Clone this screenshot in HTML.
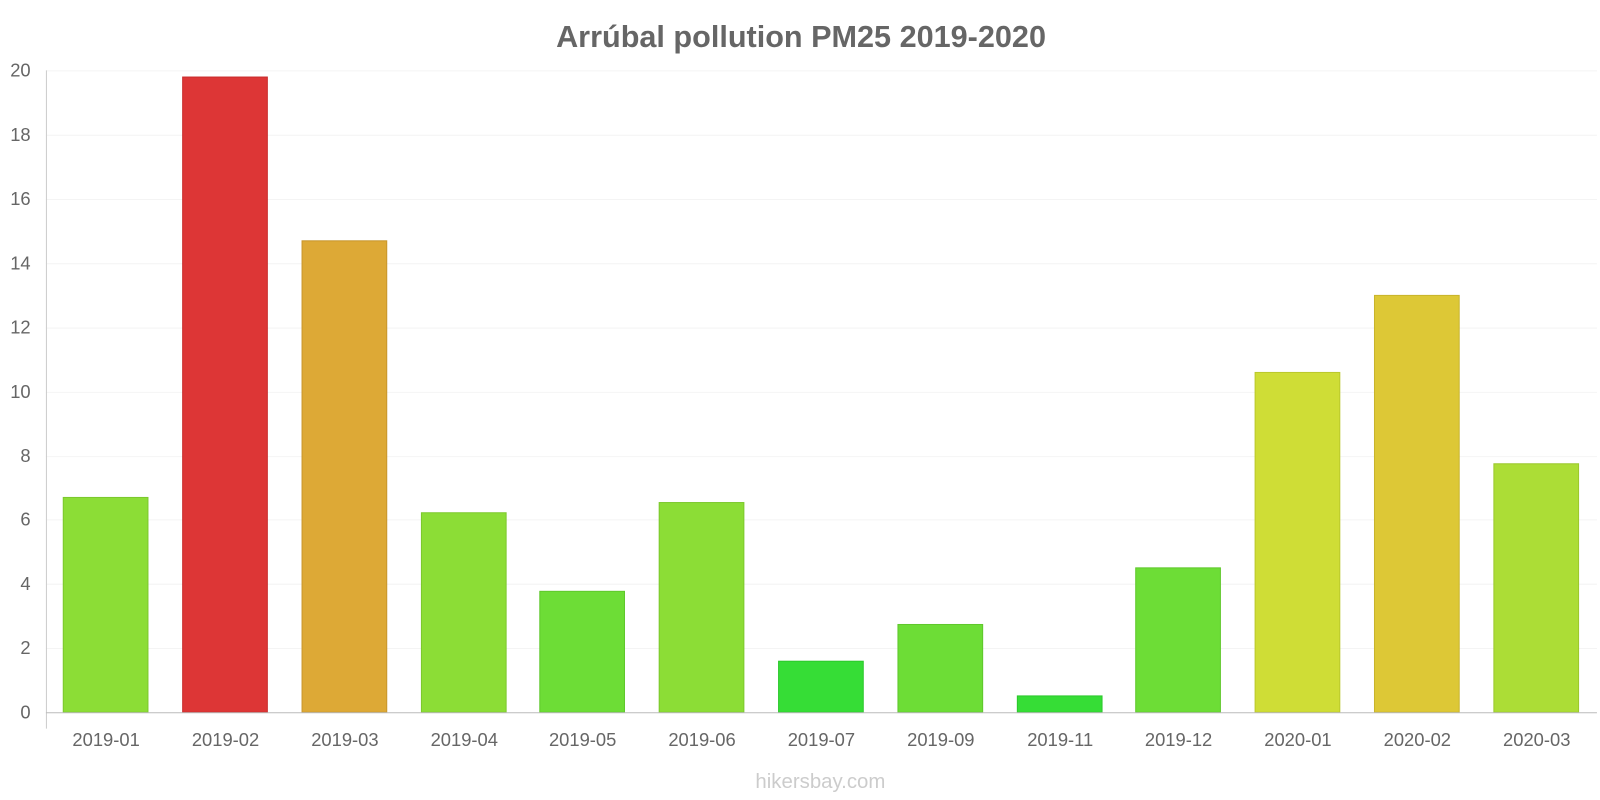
<!DOCTYPE html>
<html><head><meta charset="utf-8"><style>
html,body{margin:0;padding:0;background:#fff;overflow:hidden;}
svg{display:block;font-family:"Liberation Sans",sans-serif;}
</style></head><body>
<svg width="1600" height="800" viewBox="0 0 1568 784" xmlns="http://www.w3.org/2000/svg">
<text x="785" y="46" text-anchor="middle" font-size="30" font-weight="bold" fill="#666">Arrúbal pollution PM25 2019-2020</text>
<g stroke="#f4f4f4" stroke-width="1">
<line x1="45" x2="1565" y1="69.5" y2="69.5"/><line x1="45" x2="1565" y1="132.5" y2="132.5"/>
<line x1="45" x2="1565" y1="195.5" y2="195.5"/><line x1="45" x2="1565" y1="258.5" y2="258.5"/>
<line x1="45" x2="1565" y1="321.5" y2="321.5"/><line x1="45" x2="1565" y1="384.5" y2="384.5"/>
<line x1="45" x2="1565" y1="447.5" y2="447.5"/><line x1="45" x2="1565" y1="509.5" y2="509.5"/>
<line x1="45" x2="1565" y1="572.5" y2="572.5"/><line x1="45" x2="1565" y1="635.5" y2="635.5"/>
</g>
<g font-size="18" fill="#666" text-anchor="end">
<text x="30" y="704">0</text><text x="30" y="641">2</text><text x="30" y="578">4</text>
<text x="30" y="515">6</text><text x="30" y="453">8</text><text x="30" y="390">10</text>
<text x="30" y="327">12</text><text x="30" y="264">14</text><text x="30" y="201">16</text>
<text x="30" y="138">18</text><text x="30" y="75">20</text>
</g>
<g stroke-width="1">
<rect x="62" y="487.5" width="83" height="210.5" fill="#8cdd36" stroke="#7cc82c"/>
<rect x="179" y="75.5" width="83" height="622.5" fill="#dd3636" stroke="#c82c2c"/>
<rect x="296" y="236" width="83" height="462" fill="#dda936" stroke="#c8962c"/>
<rect x="413" y="502.5" width="83" height="195.5" fill="#8cdd36" stroke="#7cc82c"/>
<rect x="529" y="579.5" width="83" height="118.5" fill="#6ddd36" stroke="#5fc82c"/>
<rect x="646" y="492.5" width="83" height="205.5" fill="#8cdd36" stroke="#7cc82c"/>
<rect x="763" y="648" width="83" height="50" fill="#36dd36" stroke="#2cc82c"/>
<rect x="880" y="612" width="83" height="86" fill="#6ddd36" stroke="#5fc82c"/>
<rect x="997" y="682" width="83" height="16" fill="#36dd36" stroke="#2cc82c"/>
<rect x="1113" y="556.5" width="83" height="141.5" fill="#6ddd36" stroke="#5fc82c"/>
<rect x="1230" y="365" width="83" height="333" fill="#cfdd36" stroke="#bbc82c"/>
<rect x="1347" y="289.5" width="83" height="408.5" fill="#ddc836" stroke="#c8b42c"/>
<rect x="1464" y="454.5" width="83" height="243.5" fill="#acdd36" stroke="#9bc82c"/>
</g>
<line x1="45.5" y1="69" x2="45.5" y2="714" stroke="#ccc"/>
<line x1="45" y1="698.5" x2="1565" y2="698.5" stroke="#bbb"/>
<g font-size="18" fill="#666" text-anchor="middle">
<text x="104" y="731">2019-01</text><text x="221" y="731">2019-02</text><text x="338" y="731">2019-03</text>
<text x="455" y="731">2019-04</text><text x="571" y="731">2019-05</text><text x="688" y="731">2019-06</text>
<text x="805" y="731">2019-07</text><text x="922" y="731">2019-09</text><text x="1039" y="731">2019-11</text>
<text x="1155" y="731">2019-12</text><text x="1272" y="731">2020-01</text><text x="1389" y="731">2020-02</text>
<text x="1506" y="731">2020-03</text>
</g>
<text x="804" y="772" text-anchor="middle" font-size="20" fill="#ccc">hikersbay.com</text>
</svg>
</body></html>
